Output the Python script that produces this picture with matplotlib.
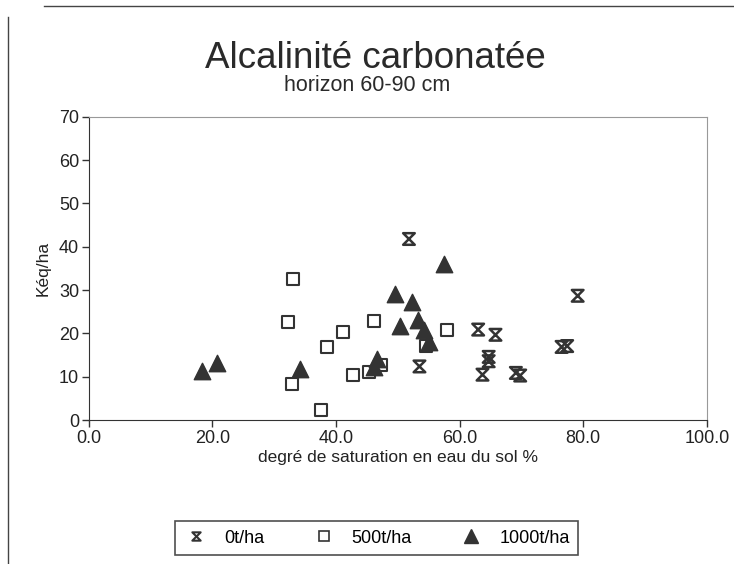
import numpy as np
import matplotlib.pyplot as plt
from matplotlib.path import Path
from matplotlib.lines import Line2D

plt.rcParams['font.family'] = ['Liberation Sans', 'DejaVu Sans']

# 0t/ha
x0 = [51.8, 79.1, 63.0, 65.8, 76.5, 77.4, 64.7, 64.7, 53.5, 63.7, 69.1, 69.8]
y0 = [41.8, 28.7, 20.9, 19.7, 16.9, 17.1, 14.6, 13.6, 12.4, 10.5, 10.9, 10.3]
# 500t/ha
x500 = [33.1, 32.2, 41.2, 46.1, 58.0, 38.6, 54.5, 42.8, 45.3, 47.2, 32.8, 37.6]
y500 = [32.6, 22.6, 20.3, 22.8, 20.9, 16.9, 17.0, 10.4, 11.1, 12.8, 8.4, 2.3]
# 1000t/ha
x1000 = [18.3, 20.8, 34.2, 46.7, 46.2, 49.6, 52.3, 57.4, 50.3, 53.2, 54.2, 55.0]
y1000 = [11.3, 13.2, 11.8, 14.0, 12.2, 29.1, 27.2, 36.0, 21.8, 23.2, 20.9, 18.0]

labels = ['0t/ha', '500t/ha', '1000t/ha']
xticks = [0, 20, 40, 60, 80, 100]
yticks = [0, 10, 20, 30, 40, 50, 60, 70]

ink = '#333333'

# hourglass marker
hourglass = Path([(-1, 1), (1, 1), (-1, -1), (1, -1), (-1, 1)],
                 [Path.MOVETO, Path.LINETO, Path.LINETO, Path.LINETO, Path.CLOSEPOLY])

fig = plt.figure(figsize=(7.34, 5.64), dpi=100)
ax = fig.add_axes([0.121, 0.255, 0.842, 0.538])

ax.scatter(x0, y0, marker=hourglass, s=70, facecolor='none', edgecolor=ink, linewidths=1.8, zorder=3)
ax.scatter(x500, y500, marker='s', s=80, facecolor='white', edgecolor=ink, linewidths=1.5, zorder=3)
ax.scatter(x1000, y1000, marker='^', s=140, facecolor=ink, edgecolor=ink, zorder=3)

ax.set_xlim(0, 100)
ax.set_ylim(0, 70)
ax.set_xticks(xticks)
ax.set_xticklabels(['%.1f' % v for v in xticks])
ax.set_yticks(yticks)
ax.tick_params(direction='out', length=5, width=1, color=ink, labelsize=13, labelcolor='#222222', pad=2)

ax.spines['left'].set_color(ink)
ax.spines['bottom'].set_color(ink)
ax.spines['top'].set_color('#999999')
ax.spines['right'].set_color('#999999')

ax.set_xlabel('degré de saturation en eau du sol %', fontsize=12.5, color='#222222', labelpad=2)
ax.set_ylabel('Kéq/ha', fontsize=12.5, color='#222222', labelpad=6)

fig.text(0.511, 0.897, 'Alcalinité carbonatée', ha='center', va='center', fontsize=26.5, color='#2a2a2a')
fig.text(0.50, 0.848, 'horizon 60-90 cm', ha='center', va='center', fontsize=15.5, color='#2a2a2a')

handles = [
    Line2D([], [], linestyle='none', marker=hourglass, markersize=6, markerfacecolor='none',
           markeredgecolor=ink, markeredgewidth=1.5),
    Line2D([], [], linestyle='none', marker='s', markersize=7, markerfacecolor='white',
           markeredgecolor=ink, markeredgewidth=1.2),
    Line2D([], [], linestyle='none', marker='^', markersize=10, markerfacecolor=ink,
           markeredgecolor=ink),
]
leg = fig.legend(handles, labels, loc='center', bbox_to_anchor=(0.513, 0.046), ncol=3,
                 frameon=True, fancybox=False, fontsize=13, handlelength=1.4,
                 handletextpad=0.85, columnspacing=2.6, borderpad=0.45)
leg.get_frame().set_edgecolor('#222222')
leg.get_frame().set_linewidth(1.2)

# page edges from the scan
fig.add_artist(Line2D([0.011, 0.011], [0.0, 0.97], color='#444444', linewidth=1))
fig.add_artist(Line2D([0.06, 1.0], [0.99, 0.99], color='#444444', linewidth=1))

fig.savefig('out.png', dpi=100, facecolor='white')
